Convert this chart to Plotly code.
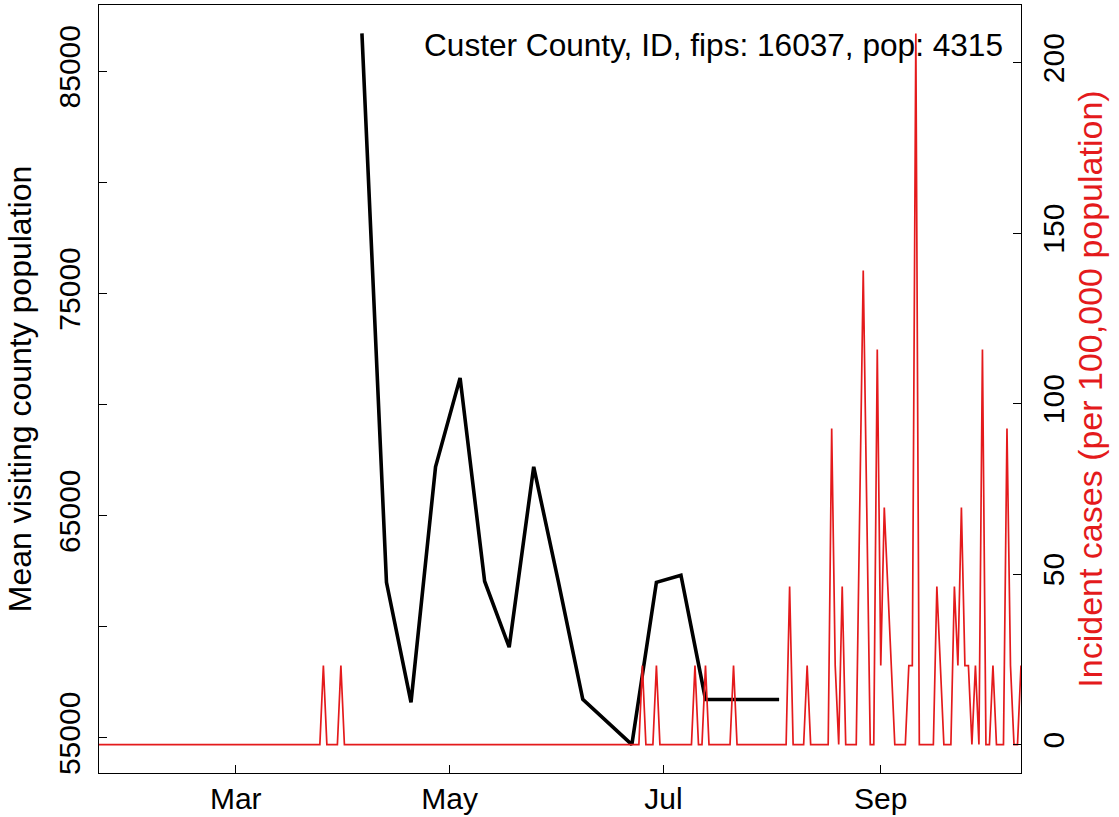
import plotly.graph_objects as go
import pandas as pd

# ---------------- data ----------------
county_label = "Custer County, ID, fips: 16037, pop: 4315"
population = 4315

# daily reported new cases (only non-zero days listed; all other days are 0)
case_dates = [
    "2020-03-26", "2020-03-31", "2020-06-25", "2020-06-29", "2020-07-10",
    "2020-07-13", "2020-07-21", "2020-08-06", "2020-08-11", "2020-08-18",
    "2020-08-19", "2020-08-21", "2020-08-26", "2020-08-27", "2020-08-28",
    "2020-08-31", "2020-09-01", "2020-09-02", "2020-09-03", "2020-09-04",
    "2020-09-09", "2020-09-10", "2020-09-11", "2020-09-17", "2020-09-18",
    "2020-09-22", "2020-09-23", "2020-09-24", "2020-09-25", "2020-09-26",
    "2020-09-28", "2020-09-30", "2020-10-03", "2020-10-07", "2020-10-08",
    "2020-10-11",
]
case_counts = [
    1, 1, 1, 1, 1,
    1, 1, 2, 1, 4,
    1, 2, 3, 6, 3,
    5, 1, 3, 2, 1,
    1, 1, 9, 2, 1,
    2, 1, 3, 1, 1,
    1, 5, 1, 4, 1,
    1,
]
series_start = "2020-01-22"
series_end = "2020-10-11"

# weekly mean visiting county population
visit_dates = [
    "2020-04-06", "2020-04-13", "2020-04-20", "2020-04-27", "2020-05-04",
    "2020-05-11", "2020-05-18", "2020-05-25", "2020-06-01", "2020-06-08",
    "2020-06-22", "2020-06-29", "2020-07-06", "2020-07-13", "2020-07-20",
    "2020-07-27", "2020-08-03",
]
visit_values = [
    86700, 62000, 56600, 67200, 71200,
    62050, 59080, 67200, 62050, 56730,
    54700, 62000, 62320, 56730, 56730,
    56730, 56730,
]

x_tick_dates = ["2020-03-01", "2020-05-01", "2020-07-01", "2020-09-01"]
x_tick_text = ["Mar", "May", "Jul", "Sep"]
left_tick_vals = [55000, 60000, 65000, 70000, 75000, 80000, 85000]
left_tick_text = ["55000", "", "65000", "", "75000", "", "85000"]
right_tick_vals = [0, 50, 100, 150, 200]

# ---------------- build ----------------
days = pd.date_range(series_start, series_end, freq="D")
cases = pd.Series(0, index=days, dtype=float)
cases.loc[pd.to_datetime(case_dates)] = case_counts
incidence = cases * 100000 / population

RED = "#E41A1C"
FONT = "Liberation Sans, Arial, Helvetica, sans-serif"
FS = 30

def pad(lo, hi, f=0.04):
    d = hi - lo
    return [lo - f * d, hi + f * d]

fig = go.Figure()
fig.add_trace(go.Scatter(
    x=visit_dates, y=visit_values, mode="lines",
    line=dict(color="black", width=3.6), yaxis="y", showlegend=False,
))
fig.add_trace(go.Scatter(
    x=incidence.index, y=incidence.values, mode="lines",
    line=dict(color=RED, width=1.7), yaxis="y2", showlegend=False,
))

axis_common = dict(
    showgrid=False, zeroline=False, showline=True, linecolor="black",
    linewidth=1.4, ticks="inside", ticklen=8, tickwidth=1.4, tickcolor="black",
    automargin=False,
)

fig.update_layout(
    width=1119, height=817,
    margin=dict(l=99, r=98, t=5, b=44, autoexpand=False),
    paper_bgcolor="white", plot_bgcolor="white",
    font=dict(family=FONT, size=FS, color="black"),
    xaxis=dict(
        **axis_common, mirror=True, type="date",
        range=[series_start, series_end],
        tickmode="array", tickvals=x_tick_dates, ticktext=x_tick_text,
        tickfont=dict(size=FS, color="black"), ticklabelstandoff=-1,
    ),
    yaxis=dict(
        **axis_common, mirror=True,
        range=pad(min(visit_values), max(visit_values)),
        tickmode="array", tickvals=left_tick_vals, ticktext=left_tick_text,
        tickangle=-90, tickfont=dict(size=FS, color="black"),
        ticklabelstandoff=6,
        title=dict(text="Mean visiting county population",
                   font=dict(size=32, color="black"), standoff=11),
    ),
    yaxis2=dict(
        **axis_common, overlaying="y", side="right",
        range=pad(0, float(incidence.max())),
        tickmode="array", tickvals=right_tick_vals,
        tickangle=-90, tickfont=dict(size=FS, color="black"),
        ticklabelstandoff=6,
        title=dict(text="Incident cases (per 100,000 population)",
                   font=dict(size=34, color=RED), standoff=8),
    ),
    annotations=[dict(
        text=county_label, xref="paper", yref="paper",
        x=0.9826, y=0.948, xanchor="right", yanchor="middle",
        showarrow=False, font=dict(size=31.6, color="black"),
    )],
)

fig.write_html("out.html", config={"displayModeBar": False},
               post_script="document.body.style.margin='0';")
